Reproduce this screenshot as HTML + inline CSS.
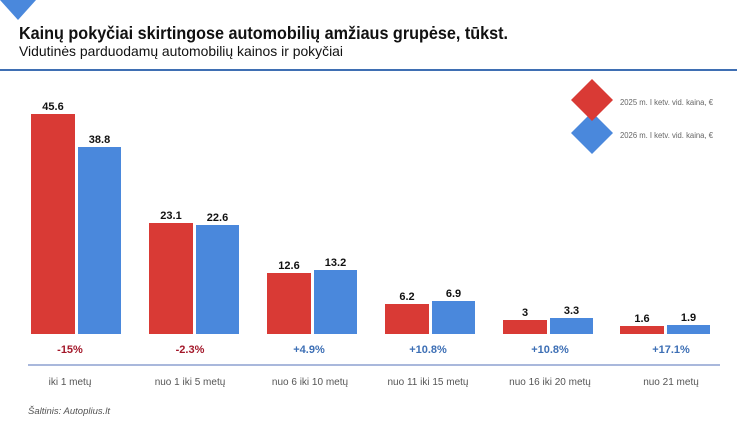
<!DOCTYPE html>
<html><head><meta charset="utf-8"><style>
body{margin:0;background:#fff;}
svg{display:block;font-family:"Liberation Sans",sans-serif;}
</style></head><body>
<svg width="737" height="425" viewBox="0 0 737 425" xmlns="http://www.w3.org/2000/svg">
<polygon points="0,0 36,0 18,20" fill="#4a88dc"/>
<text x="19" y="39" font-size="17.5" font-weight="bold" fill="#111" textLength="489" lengthAdjust="spacingAndGlyphs">Kainų pokyčiai skirtingose automobilių amžiaus grupėse, tūkst.</text>
<text x="19" y="56" font-size="14" fill="#111" textLength="324" lengthAdjust="spacingAndGlyphs">Vidutinės parduodamų automobilių kainos ir pokyčiai</text>
<rect x="0" y="69" width="737" height="2" fill="#3f6fb3"/>
<polygon points="592,112 613,133 592,154 571,133" fill="#4a88dc"/>
<polygon points="592,79 613,100 592,121 571,100" fill="#d93a35"/>
<text x="620" y="105" font-size="8" fill="#666" textLength="93" lengthAdjust="spacingAndGlyphs">2025 m. I ketv. vid. kaina, €</text>
<text x="620" y="138" font-size="8" fill="#666" textLength="93" lengthAdjust="spacingAndGlyphs">2026 m. I ketv. vid. kaina, €</text>
<g font-size="11" font-weight="bold" fill="#111" text-anchor="middle">
<rect x="31" y="114" width="44" height="220" fill="#d93a35"/><text x="53" y="110">45.6</text>
<rect x="78" y="147" width="43" height="187" fill="#4a88dc"/><text x="99.5" y="143">38.8</text>
<rect x="149" y="223" width="44" height="111" fill="#d93a35"/><text x="171" y="219">23.1</text>
<rect x="196" y="225" width="43" height="109" fill="#4a88dc"/><text x="217.5" y="221">22.6</text>
<rect x="267" y="273" width="44" height="61" fill="#d93a35"/><text x="289" y="269">12.6</text>
<rect x="314" y="270" width="43" height="64" fill="#4a88dc"/><text x="335.5" y="266">13.2</text>
<rect x="385" y="304" width="44" height="30" fill="#d93a35"/><text x="407" y="300">6.2</text>
<rect x="432" y="301" width="43" height="33" fill="#4a88dc"/><text x="453.5" y="297">6.9</text>
<rect x="503" y="320" width="44" height="14" fill="#d93a35"/><text x="525" y="316">3</text>
<rect x="550" y="318" width="43" height="16" fill="#4a88dc"/><text x="571.5" y="314">3.3</text>
<rect x="620" y="326" width="44" height="8" fill="#d93a35"/><text x="642" y="322">1.6</text>
<rect x="667" y="325" width="43" height="9" fill="#4a88dc"/><text x="688.5" y="321">1.9</text>
</g>
<g font-size="11" font-weight="bold" text-anchor="middle">
<text x="70" y="353" fill="#a3182a">-15%</text>
<text x="190" y="353" fill="#a3182a">-2.3%</text>
<text x="309" y="353" fill="#3d6fb5">+4.9%</text>
<text x="428" y="353" fill="#3d6fb5">+10.8%</text>
<text x="550" y="353" fill="#3d6fb5">+10.8%</text>
<text x="671" y="353" fill="#3d6fb5">+17.1%</text>
</g>
<rect x="28" y="364" width="692" height="2" fill="#a9b8dc"/>
<g font-size="10" fill="#555" text-anchor="middle">
<text x="70" y="385">iki 1 metų</text>
<text x="190" y="385">nuo 1 iki 5 metų</text>
<text x="310" y="385">nuo 6 iki 10 metų</text>
<text x="428" y="385">nuo 11 iki 15 metų</text>
<text x="550" y="385">nuo 16 iki 20 metų</text>
<text x="671" y="385">nuo 21 metų</text>
</g>
<text x="28" y="414" font-size="9.5" font-style="italic" fill="#555">Šaltinis: Autoplius.lt</text>
</svg>
</body></html>
